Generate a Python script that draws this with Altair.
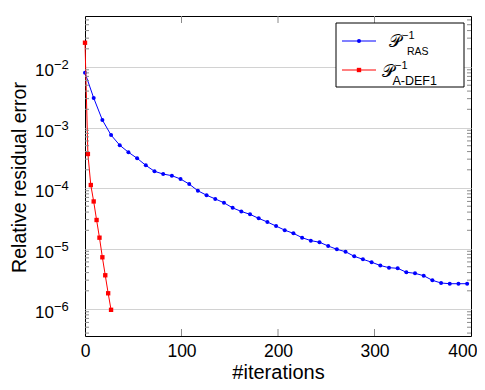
import altair as alt
import pandas as pd

# ---------------- data ----------------
blue_iter = [0, 9, 18, 27, 36, 45, 54, 63, 72, 81, 90, 99, 108, 117, 126, 135,
             144, 153, 162, 171, 180, 189, 198, 207, 216, 225, 234, 243, 252,
             261, 270, 279, 288, 297, 306, 315, 324, 333, 342, 351, 360, 369,
             378, 387, 396]
blue_err = [8.05e-3, 3.08e-3, 1.33e-3, 7.5e-4, 5.1e-4, 3.9e-4, 3.1e-4, 2.37e-4,
            1.89e-4, 1.70e-4, 1.60e-4, 1.41e-4, 1.16e-4, 9.0e-5, 7.6e-5, 6.6e-5,
            5.7e-5, 4.7e-5, 4.1e-5, 3.67e-5, 3.15e-5, 2.74e-5, 2.35e-5, 2.01e-5,
            1.78e-5, 1.51e-5, 1.35e-5, 1.27e-5, 1.10e-5, 9.7e-6, 8.85e-6, 7.43e-6,
            6.63e-6, 5.94e-6, 5.24e-6, 4.82e-6, 4.71e-6, 4.05e-6, 3.89e-6, 3.55e-6,
            2.98e-6, 2.69e-6, 2.62e-6, 2.62e-6, 2.62e-6]
red_iter = [0, 3, 6, 9, 12, 15, 18, 21, 24, 27]
red_err = [2.52e-2, 3.65e-4, 1.12e-4, 6.0e-5, 2.96e-5, 1.51e-5, 7.16e-6,
           3.61e-6, 1.82e-6, 9.7e-7]

x_ticks = [0, 100, 200, 300, 400]
x_inner_ticks = [100, 200, 300]
y_ticks = [1e-6, 1e-5, 1e-4, 1e-3, 1e-2]
y_exp = ["\u22126", "\u22125", "\u22124", "\u22123", "\u22122"]
y_minor = [m * 10.0 ** e for e in range(-7, -1) for m in range(2, 10)
           if 3.6e-7 < m * 10.0 ** e < 0.069]

legend_sub = ["RAS", "A-DEF1"]
legend_sup = "\u22121"
legend_main = "\U0001D4AB"

BLUE = "#0000ff"
RED = "#ff0000"
FONT = "Liberation Sans"
TICKC = "#8a8a8a"

W, H = 386, 320
x_scale = alt.Scale(domain=[0, 400], nice=False, zero=False)
y_scale = alt.Scale(type="log", domain=[3.58e-7, 0.0697], nice=False)

df_blue = pd.DataFrame({"x": blue_iter, "y": blue_err})
df_red = pd.DataFrame({"x": red_iter, "y": red_err})
df_yt = pd.DataFrame({"y": y_ticks, "e": y_exp})
df_minor = pd.DataFrame({"y": y_minor})
df_xt = pd.DataFrame({"x": x_inner_ticks})
one = pd.DataFrame({"k": [0]})

X = alt.X("x:Q", scale=x_scale,
          axis=alt.Axis(values=x_ticks, ticks=False, domain=False, grid=False,
                        labelFont=FONT, labelFontSize=17.5, labelColor="black",
                        labelFlush=False, labelPadding=6,
                        labelAlign={"condition": {"test": "datum.value >= 400",
                                                  "value": "right"},
                                    "value": "center"},
                        labelOffset={"condition": {"test": "datum.value >= 400",
                                                   "value": 6},
                                     "value": 0},
                        title="#iterations", titleFont=FONT,
                        titleFontSize=20, titleFontWeight="normal",
                        titleColor="black", titleY=42,
                        titleBaseline="alphabetic"))
Y = alt.Y("y:Q", scale=y_scale,
          axis=alt.Axis(values=y_ticks, labels=False, ticks=False, domain=False,
                        grid=True, gridColor="#d2d2d2", gridWidth=1.1,
                        title="Relative residual error", titleFont=FONT,
                        titleFontSize=19.5, titleFontWeight="normal",
                        titleColor="black", titleAngle=270, titleX=-60,
                        titleY=161, titleAlign="center",
                        titleBaseline="alphabetic"))
Yp = alt.Y("y:Q", scale=y_scale)
Xp = alt.X("x:Q", scale=x_scale)

blue_line = alt.Chart(df_blue).mark_line(color=BLUE, strokeWidth=1).encode(x=X, y=Y)
blue_pts = alt.Chart(df_blue).mark_point(shape="circle", filled=True, color=BLUE,
                                         size=16, opacity=1).encode(x=Xp, y=Yp)
red_line = alt.Chart(df_red).mark_line(color=RED, strokeWidth=1).encode(x=Xp, y=Yp)
red_pts = alt.Chart(df_red).mark_point(shape="square", filled=True, color=RED,
                                       size=19, opacity=1).encode(x=Xp, y=Yp)

# y tick labels 10^{-k}
ylab_base = alt.Chart(df_yt).mark_text(align="right", baseline="alphabetic",
                                       dy=9, font=FONT, fontSize=17,
                                       color="black").encode(
    y=Yp, x=alt.value(-31), text=alt.value("10"))
ylab_exp = alt.Chart(df_yt).mark_text(align="left", baseline="alphabetic",
                                      dy=2.3, font=FONT, fontSize=13,
                                      color="black").encode(
    y=Yp, x=alt.value(-31), text="e:N")

# inward ticks
minor_l = alt.Chart(df_minor).mark_rule(color=TICKC, strokeWidth=1).encode(
    y=Yp, x=alt.value(0), x2=alt.value(4))
minor_r = alt.Chart(df_minor).mark_rule(color=TICKC, strokeWidth=1).encode(
    y=Yp, x=alt.value(W - 4), x2=alt.value(W))
xt_b = alt.Chart(df_xt).mark_rule(color=TICKC, strokeWidth=1).encode(
    x=Xp, y=alt.value(H - 7), y2=alt.value(H))
xt_t = alt.Chart(df_xt).mark_rule(color=TICKC, strokeWidth=1).encode(
    x=Xp, y=alt.value(0), y2=alt.value(7))

# legend
leg_box = alt.Chart(one).mark_rect(fill="white", stroke="black",
                                   strokeWidth=1).encode(
    x=alt.value(251), x2=alt.value(379), y=alt.value(7), y2=alt.value(71))
layers_leg = [leg_box]
entries = [
    # color, shape, size, line y, P x, P baseline, sup x, sup baseline, sub x, sub baseline, sub size
    (BLUE, "circle", 16, 25, 310, 31, 317, 22.7, 322, 38.7, 10.5),
    (RED, "square", 19, 54, 302.5, 61, 310, 52.7, 307.5, 68.5, 12.5),
]
for i, (c, shp, sz, ly, px, pb, sx, sb, bx, bb, bs) in enumerate(entries):
    layers_leg.append(alt.Chart(one).mark_rule(color=c, strokeWidth=1).encode(
        x=alt.value(257), x2=alt.value(291), y=alt.value(ly)))
    layers_leg.append(alt.Chart(one).mark_point(shape=shp, filled=True, color=c,
                                                size=sz, opacity=1).encode(
        x=alt.value(274), y=alt.value(ly)))
    layers_leg.append(alt.Chart(one).mark_text(align="center", baseline="alphabetic",
                                               font=FONT, fontSize=17,
                                               color="black").encode(
        x=alt.value(px), y=alt.value(pb), text=alt.value(legend_main)))
    layers_leg.append(alt.Chart(one).mark_text(align="left", baseline="alphabetic",
                                               font=FONT, fontSize=11,
                                               color="black").encode(
        x=alt.value(sx), y=alt.value(sb), text=alt.value(legend_sup)))
    layers_leg.append(alt.Chart(one).mark_text(align="left", baseline="alphabetic",
                                               font=FONT, fontSize=bs,
                                               color="black").encode(
        x=alt.value(bx), y=alt.value(bb), text=alt.value(legend_sub[i])))

chart = alt.layer(
    blue_line, blue_pts, red_line, red_pts,
    minor_l, minor_r, xt_b, xt_t,
    ylab_base, ylab_exp,
    *layers_leg,
).properties(
    width=W, height=H,
    autosize=alt.AutoSizeParams(type="none"),
    padding={"left": 77, "top": 8, "right": 6, "bottom": 46},
).configure_view(stroke="black", strokeWidth=1)

chart.save("out.html", embed_options={"renderer": "svg", "actions": False})
